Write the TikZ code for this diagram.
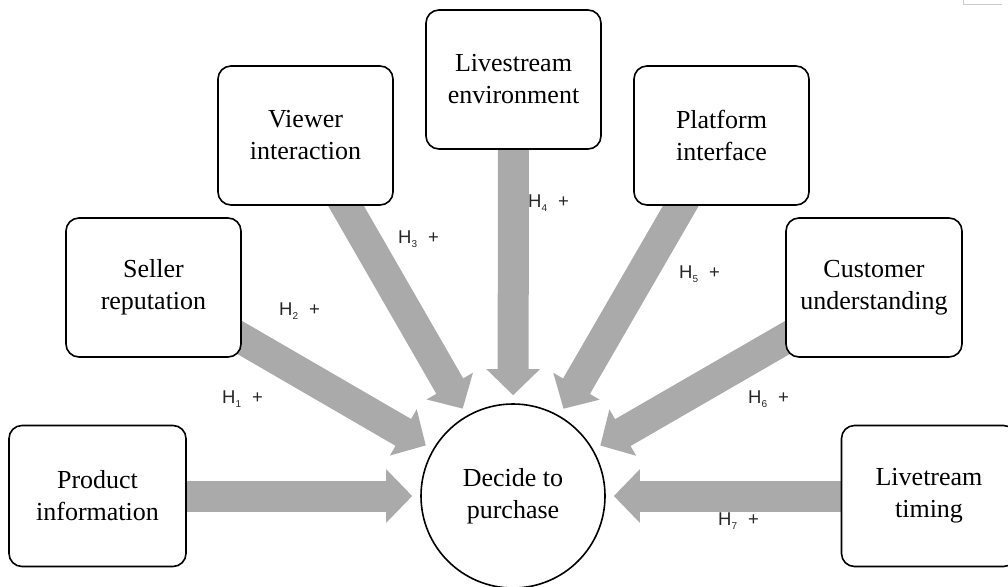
\documentclass[tikz,border=0pt]{standalone}
\usepackage{fontspec}
\setmainfont{Liberation Serif}
\newfontfamily\labfont{Liberation Sans}
\usetikzlibrary{arrows.meta,backgrounds}
\definecolor{arrowgray}{RGB}{170,170,170}
\newcommand{\hlab}[1]{H\raisebox{-4pt}{\fontsize{10}{10}\selectfont #1}\hspace{11pt}+}
\begin{document}
\begin{tikzpicture}[x=1pt,y=-1pt,
  box/.style={draw, line width=1.6pt, rounded corners=13pt, fill=white,
    minimum width=175pt, minimum height=139pt, align=center, inner sep=0pt,
    font=\fontsize{26}{32}\selectfont},
  hub/.style={draw, circle, line width=1.6pt, minimum size=184pt, align=center,
    inner sep=0pt, fill=white, font=\fontsize{26}{32}\selectfont},
  fat/.style={draw=arrowgray, line width=31pt, -{Triangle[length=26pt,width=52pt]},
    shorten >=8pt},
  hyp/.style={anchor=base west, inner sep=0pt, text=black!85,
    font=\labfont\fontsize{18.5}{20}\selectfont},
  faint/.style={draw=black!20, line width=0.8pt}]
\useasboundingbox (0,0) rectangle (1008,586);
\clip (0,0) rectangle (1008,586);

\node[hub] (dp) at (513,496) {Decide to\\purchase};

\node[box, minimum width=177pt, minimum height=141pt] (prod) at (97.5,496) {Product\\information};
\node[box] (seller) at (153.5,287.5) {Seller\\reputation};
\node[box] (viewer) at (305.5,135.5) {Viewer\\interaction};
\node[box] (env) at (513.5,79.5) {Livestream\\environment};
\node[box] (plat) at (721.5,135.5) {Platform\\interface};
\node[box, minimum width=176pt] (cust) at (874,287.5) {Customer\\understanding};
\node[box, minimum height=141pt] (timing) at (929,496) {Livetream\\timing};

\begin{scope}[on background layer]
  \draw[fat] (prod.center) -- (dp);
  \draw[fat] (seller.center) -- (dp);
  \draw[fat] (viewer.center) -- (dp);
  \draw[fat] (env.center) -- (dp);
  \draw[fat] (plat.center) -- (dp);
  \draw[fat] (cust.center) -- (dp);
  \draw[fat] (timing.center) -- (dp);
\end{scope}

\node[hyp] (h1) at (222,403) {\hlab{1}};
\node[hyp] (h2) at (279,315) {\hlab{2}};
\node[hyp] (h3) at (398,243) {\hlab{3}};
\node[hyp] (h4) at (528,207) {\hlab{4}};
\node[hyp] (h5) at (679,278) {\hlab{5}};
\node[hyp] (h6) at (748,403) {\hlab{6}};
\node[hyp] (h7) at (718,525) {\hlab{7}};

\coordinate (fa) at (963,0);
\coordinate (fb) at (963,4);
\coordinate (fc) at (1002,4);
\draw[faint] (fa) -- (fb) -- (fc);
\end{tikzpicture}
\end{document}
